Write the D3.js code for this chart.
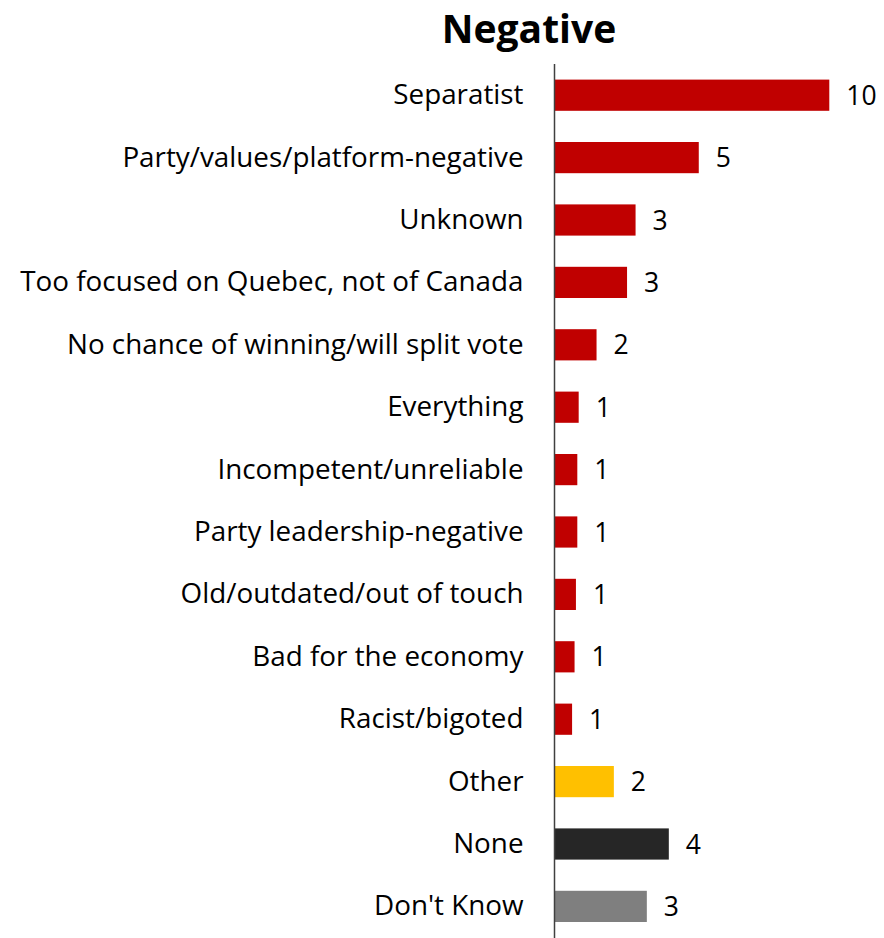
<!DOCTYPE html>
<html>
<head>
<meta charset="utf-8">
<script src="https://cdn.jsdelivr.net/npm/d3@7"></script>
<style>
  body { margin: 0; background: #fff; }
  text { font-family: "Open Sans", "DejaVu Sans", sans-serif; fill: #000; }
</style>
</head>
<body>
<div id="chart"></div>
<script>
// data (labels are rounded, bar lengths are not)
const categories = [
  "Separatist",
  "Party/values/platform-negative",
  "Unknown",
  "Too focused on Quebec, not of Canada",
  "No chance of winning/will split vote",
  "Everything",
  "Incompetent/unreliable",
  "Party leadership-negative",
  "Old/outdated/out of touch",
  "Bad for the economy",
  "Racist/bigoted",
  "Other",
  "None",
  "Don't Know"
];
const values = [10.0, 5.25, 2.95, 2.64, 1.53, 0.88, 0.83, 0.83, 0.78, 0.73, 0.64, 2.16, 4.16, 3.36];
const labels = ["10", "5", "3", "3", "2", "1", "1", "1", "1", "1", "1", "2", "4", "3"];
const groups = ["neg", "neg", "neg", "neg", "neg", "neg", "neg", "neg", "neg", "neg", "neg", "other", "none", "dk"];

const colours = { neg: "#C00000", other: "#FFC000", none: "#262626", dk: "#7F7F7F" };

const width = 884, height = 938;
const axisX = 554.5; // where the bars start
const plotTop = 64, plotBottom = 937.6;

const data = categories.map((c, i) => ({ cat: c, val: values[i], lab: labels[i], grp: groups[i] }));

const svg = d3.select("#chart")
  .append("svg")
  .attr("width", width)
  .attr("height", height);

// scales
const x = d3.scaleLinear().domain([0, 10]).range([axisX, axisX + 274.8]);
const y = d3.scaleBand()
  .domain(categories)
  .range([plotTop, plotBottom])
  .paddingInner(0.5)
  .paddingOuter(0.25);

// title
svg.append("text")
  .text("Negative")
  .attr("x", 529)
  .attr("y", 43)
  .attr("text-anchor", "middle")
  .style("font-size", "39px")
  .style("font-weight", "bold");

// bars
svg.selectAll("rect.bar")
  .data(data)
  .enter()
  .append("rect")
  .attr("class", "bar")
  .attr("x", x(0))
  .attr("y", d => y(d.cat))
  .attr("width", d => x(d.val) - x(0))
  .attr("height", y.bandwidth())
  .style("fill", d => colours[d.grp]);

// value labels
svg.selectAll("text.val")
  .data(data)
  .enter()
  .append("text")
  .attr("class", "val")
  .attr("x", d => x(d.val) + 17)
  .attr("y", d => y(d.cat) + y.bandwidth() / 2)
  .attr("dy", "0.36em")
  .style("font-size", "26.5px")
  .text(d => d.lab);

// category labels on the left
svg.append("g")
  .attr("transform", "translate(" + axisX + ",0)")
  .call(d3.axisLeft(y).tickSize(0).tickPadding(31))
  .call(g => g.select(".domain").remove())
  .selectAll("text")
  .style("font-size", "27.8px")
  .style("font-family", "'Open Sans', sans-serif");

// vertical axis line
svg.append("line")
  .attr("x1", axisX)
  .attr("x2", axisX)
  .attr("y1", plotTop)
  .attr("y2", height)
  .style("stroke", "#404040")
  .style("stroke-width", 1.5);
</script>
</body>
</html>
